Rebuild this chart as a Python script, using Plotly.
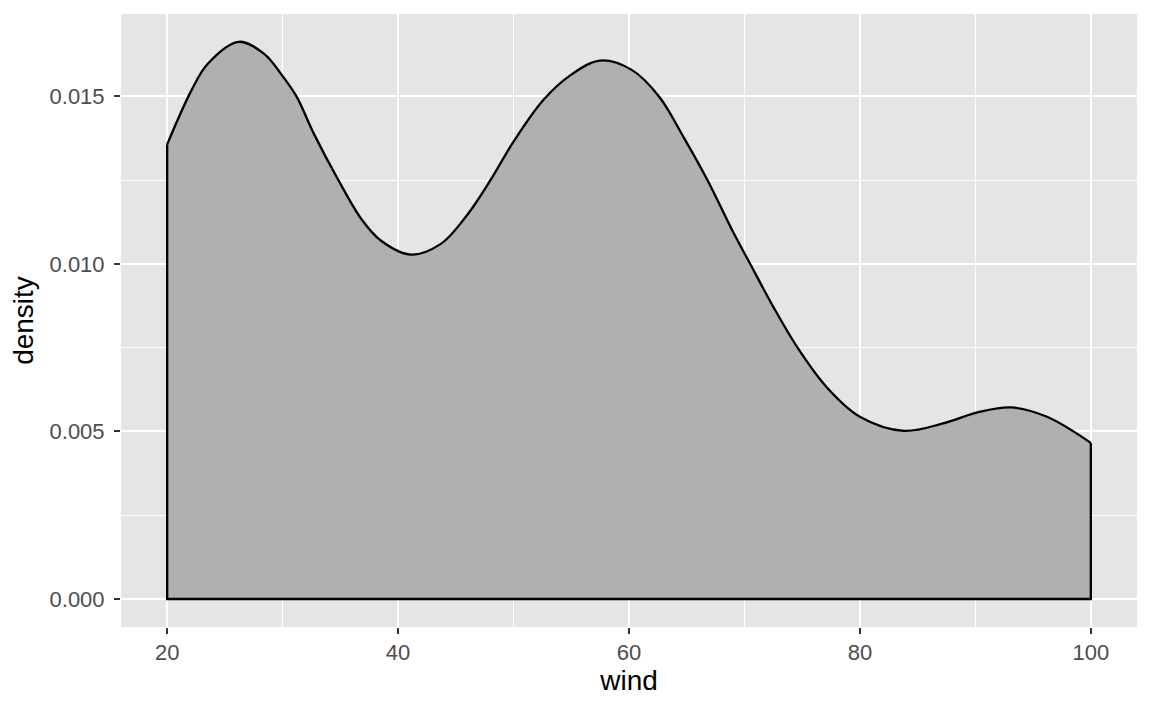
import plotly.graph_objects as go

# Density estimate of wind
wind = [20, 22.1, 23.5, 26.2, 28.4, 29.95, 31.2, 32.7, 34.8, 36.8, 38.5, 41.1,
        43.7, 46.0, 48.0, 50.0, 52.6, 55.0, 57.5, 60.2, 62.6, 64.7, 66.8, 69.1,
        70.5, 72.5, 74.6, 77.1, 80.0, 83.8, 87.2, 90.4, 93.1, 96.2, 100]
density = [0.01357, 0.01518, 0.01597, 0.01663, 0.01627, 0.01563, 0.01500, 0.01389,
           0.01252, 0.01135, 0.01070, 0.01028, 0.01060, 0.01147, 0.01250, 0.01365,
           0.01490, 0.01565, 0.01607, 0.01580, 0.01500, 0.01380, 0.01250, 0.01090,
           0.01000, 0.00872, 0.00750, 0.00633, 0.00544, 0.00502, 0.00524, 0.00559,
           0.00572, 0.00544, 0.00466]

x_ticks = [20, 40, 60, 80, 100]
x_minor = [30, 50, 70, 90]
y_ticks = [0.0, 0.005, 0.010, 0.015]
y_tick_labels = ["0.000", "0.005", "0.010", "0.015"]
y_minor = [0.0025, 0.0075, 0.0125]

FONT = "Liberation Sans, Arial, sans-serif"

fig = go.Figure()
fig.add_trace(go.Scatter(
    x=wind, y=density, mode="lines",
    line=dict(color="black", width=2.3, shape="spline", smoothing=1.0),
    fill="tozeroy", fillcolor="#B0B0B0", hoverinfo="skip", showlegend=False))
fig.add_trace(go.Scatter(
    x=[wind[0], wind[0], wind[-1], wind[-1]],
    y=[density[0], 0, 0, density[-1]], mode="lines",
    line=dict(color="black", width=2.3), hoverinfo="skip", showlegend=False))

# page body has an 8px margin; figure sized/margined so the panel lands where the reference has it
fig.update_layout(
    width=1136, height=695,
    margin=dict(l=113, r=7, t=6, b=76),
    paper_bgcolor="white", plot_bgcolor="#E5E5E5",
    font=dict(family=FONT, color="#4D4D4D", size=22),
    xaxis=dict(
        range=[16, 104], tickvals=x_ticks, ticktext=[str(v) for v in x_ticks],
        showgrid=True, gridcolor="white", gridwidth=2,
        minor=dict(tickvals=x_minor, showgrid=True, gridcolor="white", gridwidth=1, ticks=""),
        ticks="outside", ticklen=6, tickwidth=2, tickcolor="#333333",
        zeroline=False, showline=False, automargin=False,
        tickfont=dict(size=22, color="#4D4D4D"),
        title=dict(text="wind", font=dict(size=28, color="black"), standoff=4),
    ),
    yaxis=dict(
        range=[-0.000835, 0.01746], tickvals=y_ticks, ticktext=y_tick_labels,
        showgrid=True, gridcolor="white", gridwidth=2,
        minor=dict(tickvals=y_minor, showgrid=True, gridcolor="white", gridwidth=1, ticks=""),
        ticks="outside", ticklen=6, tickwidth=2, tickcolor="#333333",
        ticklabelstandoff=5,
        zeroline=False, showline=False, automargin=False,
        tickfont=dict(size=22, color="#4D4D4D"),
        title=dict(text="density", font=dict(size=28, color="black"), standoff=10),
    ),
)

fig.write_html("out.html")
